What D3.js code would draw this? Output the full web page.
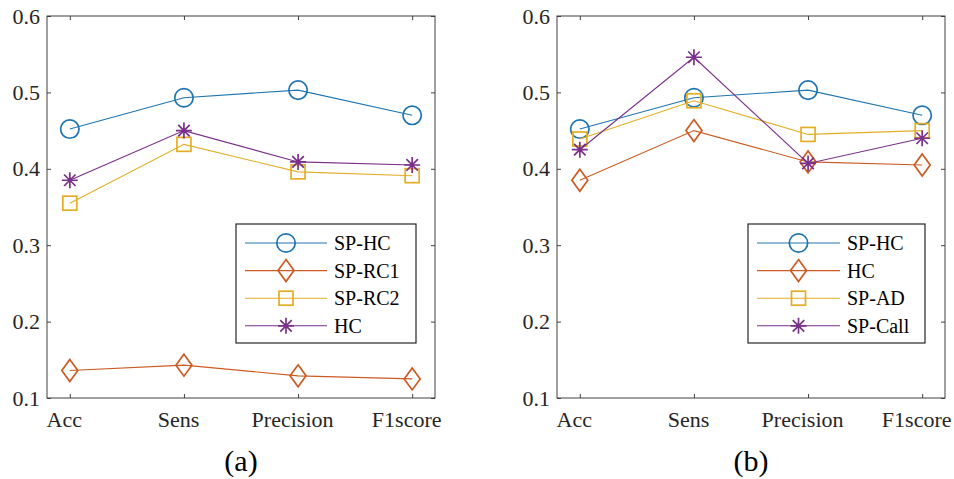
<!DOCTYPE html>
<html>
<head>
<meta charset="utf-8">
<script src="https://cdn.jsdelivr.net/npm/d3@7"></script>
<style>
  html, body { margin: 0; padding: 0; background: #fff; }
  svg { display: block; }
  svg text { font-family: "Liberation Serif", "Times New Roman", "DejaVu Serif", serif !important; }
</style>
</head>
<body>
<svg id="chart" width="954" height="479"></svg>
<script>
// ---------- data ----------
const categories = ["Acc", "Sens", "Precision", "F1score"];
const yTicks = [0.1, 0.2, 0.3, 0.4, 0.5, 0.6];

// panel (a)
const aNames = ["SP-HC", "SP-RC1", "SP-RC2", "HC"];
const aSPHC  = [0.452, 0.493, 0.503, 0.470];
const aSPRC1 = [0.136, 0.143, 0.129, 0.125];
const aSPRC2 = [0.355, 0.432, 0.396, 0.391];
const aHC    = [0.385, 0.450, 0.409, 0.405];

// panel (b)
const bNames = ["SP-HC", "HC", "SP-AD", "SP-Call"];
const bSPHC   = [0.452, 0.493, 0.503, 0.470];
const bHC     = [0.385, 0.450, 0.409, 0.405];
const bSPAD   = [0.439, 0.489, 0.445, 0.450];
const bSPCall = [0.425, 0.546, 0.407, 0.440];

const colors  = ["#1F74B0", "#CC5A22", "#E3AE26", "#7A2F8A"];
const markers = ["circle", "diamond", "square", "star"];

// ---------- drawing ----------
const svg = d3.select("#chart");
const axisColor = "#404040";
const FONT = '"Liberation Serif", "Times New Roman", "DejaVu Serif", serif';

function marker(g, type, color) {
  const sw = 1.7;
  if (type === "circle") {
    g.append("circle").attr("r", 9.2).attr("fill", "none").attr("stroke", color).attr("stroke-width", sw);
  } else if (type === "diamond") {
    g.append("path").attr("d", "M0,-11L8,0L0,11L-8,0Z").attr("fill", "none").attr("stroke", color).attr("stroke-width", sw);
  } else if (type === "square") {
    g.append("rect").attr("x", -7).attr("y", -7).attr("width", 14).attr("height", 14)
      .attr("fill", "none").attr("stroke", color).attr("stroke-width", sw);
  } else {
    const r = 8, d = r * 0.72;
    g.append("path").attr("d", `M0,${-r}L0,${r}M${-r},0L${r},0M${-d},${-d}L${d},${d}M${-d},${d}L${d},${-d}`)
      .attr("fill", "none").attr("stroke", color).attr("stroke-width", sw);
  }
}

function panel(opt) {
  const { x0, x1, y0, y1, names, series, caption, legend } = opt;
  const x = d3.scalePoint().domain(categories).range([x0, x1]).padding(0.2);
  const y = d3.scaleLinear().domain([0.1, 0.6]).range([y1, y0]);
  const g = svg.append("g");

  g.append("rect").attr("x", x0).attr("y", y0).attr("width", x1 - x0).attr("height", y1 - y0)
    .attr("fill", "#fff").attr("stroke", axisColor).attr("stroke-width", 1);

  const fontSize = 22;
  const left = g.append("g").attr("transform", `translate(${x0},0)`)
    .call(d3.axisLeft(y).tickValues(yTicks).tickFormat(d3.format(".1f")).tickSizeInner(-4).tickSizeOuter(0).tickPadding(7));
  const right = g.append("g").attr("transform", `translate(${x1},0)`)
    .call(d3.axisRight(y).tickValues(yTicks).tickFormat("").tickSizeInner(-4).tickSizeOuter(0));
  const bottom = g.append("g").attr("transform", `translate(0,${y1})`)
    .call(d3.axisBottom(x).tickSizeInner(-4).tickSizeOuter(0).tickPadding(13));
  const top = g.append("g").attr("transform", `translate(0,${y0})`)
    .call(d3.axisTop(x).tickFormat("").tickSizeInner(-4).tickSizeOuter(0));

  [left, right, bottom, top].forEach(a => {
    a.attr("font-family", FONT).attr("font-size", fontSize);
    a.select(".domain").remove();
    a.selectAll("line").attr("stroke", axisColor).attr("stroke-width", 1);
    a.selectAll("text").attr("fill", "#262626");
  });
  bottom.selectAll("text").attr("dx", -6);

  series.forEach((vals, i) => {
    const line = d3.line().x((d, j) => x(categories[j])).y(d => y(d));
    g.append("path").datum(vals).attr("d", line).attr("fill", "none")
      .attr("stroke", colors[i]).attr("stroke-width", 1.1);
    vals.forEach((v, j) => {
      const m = g.append("g").attr("transform", `translate(${x(categories[j])},${y(v)})`);
      marker(m, markers[i], colors[i]);
    });
  });

  const lg = g.append("g");
  lg.append("rect").attr("x", legend.x).attr("y", legend.y).attr("width", legend.w).attr("height", legend.h)
    .attr("fill", "#fff").attr("stroke", "#262626").attr("stroke-width", 1.2);
  names.forEach((n, i) => {
    const yy = legend.y + 19 + i * 27.6;
    lg.append("line").attr("x1", legend.lx0).attr("x2", legend.lx1).attr("y1", yy).attr("y2", yy)
      .attr("stroke", colors[i]).attr("stroke-width", 1.1);
    const m = lg.append("g").attr("transform", `translate(${(legend.lx0 + legend.lx1) / 2},${yy})`);
    marker(m, markers[i], colors[i]);
    lg.append("text").attr("x", legend.tx).attr("y", yy).attr("dy", "0.35em")
      .attr("font-family", FONT).attr("font-size", 20).attr("fill", "#000").text(n);
  });

  g.append("text").attr("x", (x0 + x1) / 2).attr("y", 471).attr("text-anchor", "middle")
    .attr("font-family", FONT).attr("font-size", 30).attr("fill", "#000").text(caption);
}

panel({
  x0: 47, x1: 435, y0: 16, y1: 398,
  names: aNames, series: [aSPHC, aSPRC1, aSPRC2, aHC], caption: "(a)",
  legend: { x: 236, y: 224, w: 180, h: 119, lx0: 245, lx1: 327, tx: 334 }
});
panel({
  x0: 557, x1: 945, y0: 16, y1: 398,
  names: bNames, series: [bSPHC, bHC, bSPAD, bSPCall], caption: "(b)",
  legend: { x: 748, y: 224, w: 177, h: 119, lx0: 757, lx1: 840, tx: 847 }
});
</script>
</body>
</html>
